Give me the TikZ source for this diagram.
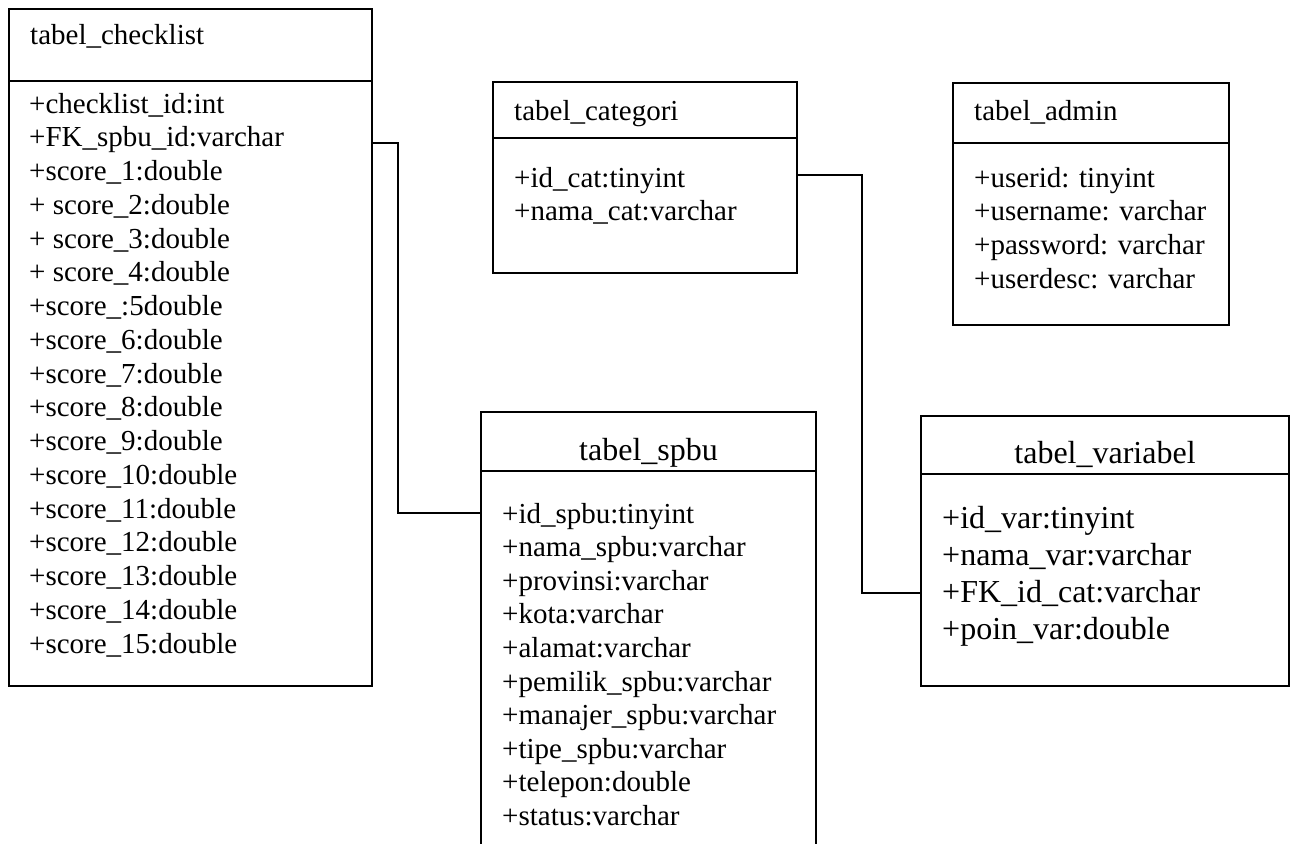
\documentclass[tikz,border=0pt]{standalone}
\usepackage{fontspec}
\setmainfont{Liberation Serif}
\begin{document}
\begin{tikzpicture}[x=1pt,y=-1pt,
  tablebox/.style={draw, line width=1.8pt, inner sep=0pt, outer sep=0pt},
  sep/.style={line width=1.8pt},
  link/.style={line width=1.8pt},
  rowtext/.style={anchor=base west, inner sep=0pt, font=\fontsize{29}{33}\selectfont},
  bigtext/.style={anchor=base west, inner sep=0pt, font=\fontsize{32}{36}\selectfont},
  bigtitle/.style={anchor=base, inner sep=0pt, font=\fontsize{32}{36}\selectfont}]
\useasboundingbox (0,0) rectangle (1292,843);
\clip (0,0) rectangle (1292,843);

% table boxes
\node[tablebox, minimum width=363, minimum height=677] (chk) at (190.5,347.5) {};
\node[tablebox, minimum width=304, minimum height=191] (cat) at (645,177.5) {};
\node[tablebox, minimum width=276, minimum height=242] (adm) at (1091,204) {};
\node[tablebox, minimum width=335, minimum height=488] (spbu) at (648.5,656) {};
\node[tablebox, minimum width=368, minimum height=270] (var) at (1105,551) {};

% header separators
\draw[sep] (chk.west |- 0,81) -- ([xshift=1]chk.east |- 0,81);
\draw[sep] (cat.west |- 0,138) -- (cat.east |- 0,138);
\draw[sep] (adm.west |- 0,143) -- (adm.east |- 0,143);
\draw[sep] (spbu.west |- 0,471) -- (spbu.east |- 0,471);
\draw[sep] (var.west |- 0,474) -- (var.east |- 0,474);

% titles
\node[rowtext] (chk-title) at (30,45) {tabel\_checklist};
\node[rowtext] (cat-title) at (514,120) {tabel\_categori};
\node[rowtext] (adm-title) at (974,120) {tabel\_admin};
\node[bigtitle] (spbu-title) at (648.5,460) {tabel\_spbu};
\node[bigtitle] (var-title) at (1105,463) {tabel\_variabel};

% attributes
\foreach \t [count=\i from 0] in {+checklist\_id:int, +FK\_spbu\_id:varchar,
  +score\_1:double, + score\_2:double, + score\_3:double, + score\_4:double,
  +score\_:5double, +score\_6:double, +score\_7:double, +score\_8:double,
  +score\_9:double, +score\_10:double, +score\_11:double, +score\_12:double,
  +score\_13:double, +score\_14:double, +score\_15:double}
  \node[rowtext] (chk-\i) at (29,{113+33.75*\i}) {\t};

\foreach \t [count=\i from 0] in {+id\_cat:tinyint, +nama\_cat:varchar}
  \node[rowtext] (cat-\i) at (514,{187+33*\i}) {\t};

\foreach \t [count=\i from 0] in {+userid: tinyint, +username: varchar,
  +password: varchar, +userdesc: varchar}
  \node[rowtext] (adm-\i) at (974,{187+33.7*\i}) {\t};

\foreach \t [count=\i from 0] in {+id\_spbu:tinyint, +nama\_spbu:varchar,
  +provinsi:varchar, +kota:varchar, +alamat:varchar, +pemilik\_spbu:varchar,
  +manajer\_spbu:varchar, +tipe\_spbu:varchar, +telepon:double, +status:varchar}
  \node[rowtext] (spbu-\i) at (502,{523+33.6*\i}) {\t};

\foreach \t [count=\i from 0] in {+id\_var:tinyint, +nama\_var:varchar,
  +FK\_id\_cat:varchar, +poin\_var:double}
  \node[bigtext] (var-\i) at (942,{528+37*\i}) {\t};

% relations
\coordinate (b1) at (398,143);
\coordinate (b2) at (398,513);
\draw[link] (chk.east |- b1) -- (b1) -- (b2) -- (spbu.west |- b2);
\coordinate (b3) at (862,175);
\coordinate (b4) at (862,593);
\draw[link] (cat.east |- b3) -- (b3) -- (b4) -- (var.west |- b4);
\end{tikzpicture}
\end{document}
